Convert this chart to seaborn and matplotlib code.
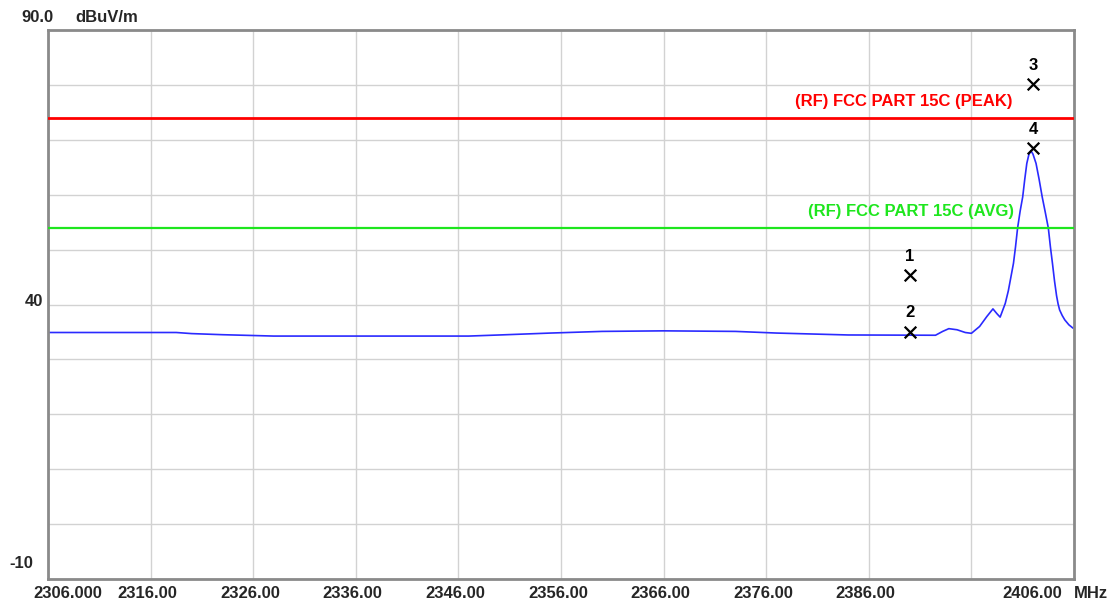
import matplotlib
matplotlib.use("Agg")
import matplotlib.pyplot as plt
import matplotlib.transforms as mtransforms
import pandas as pd
import seaborn as sns

# Messkurve (Frequenz in MHz, Pegel in dBuV/m)
freq_mhz = [2306.0, 2318.5, 2320.0, 2323.0, 2328.0, 2347.0, 2350.0, 2355.0,
            2360.0, 2366.0, 2373.0, 2377.0, 2384.0, 2392.5, 2393.2, 2393.8,
            2394.6, 2395.4, 2396.0, 2396.8, 2397.5, 2398.1, 2398.5, 2398.8,
            2399.3, 2399.6, 2399.8, 2400.1, 2400.3, 2400.5, 2400.75, 2401.0,
            2401.2, 2401.4, 2401.6, 2401.8, 2402.0, 2402.3, 2402.6, 2402.9,
            2403.2, 2403.5, 2403.7, 2403.9, 2404.1, 2404.3, 2404.45, 2404.6,
            2404.85, 2405.1, 2405.5, 2405.9]
level_dbuv = [34.9, 34.9, 34.7, 34.5, 34.25, 34.25, 34.45, 34.8,
              35.1, 35.2, 35.1, 34.8, 34.45, 34.4, 35.1, 35.6,
              35.4, 34.9, 34.75, 36.0, 37.8, 39.2, 38.3, 37.7,
              40.2, 42.5, 44.5, 47.5, 50.5, 53.9, 57.0, 59.6,
              62.8, 65.7, 67.3, 68.0, 67.4, 65.7, 62.8, 59.6,
              56.8, 53.9, 50.5, 47.5, 44.3, 41.6, 40.1, 39.0,
              38.0, 37.2, 36.3, 35.7]

# Marker
marker_ids = ["1", "2", "3", "4"]
marker_freq = [2390.0, 2390.0, 2402.0, 2402.0]
marker_level = [45.3, 35.0, 80.1, 68.5]

# Grenzwerte
limit_peak = 74.0
limit_avg = 54.0
limit_peak_label = "(RF) FCC PART 15C (PEAK)"
limit_avg_label = "(RF) FCC PART 15C (AVG)"

x_ticks = [2306, 2316, 2326, 2336, 2346, 2356, 2366, 2376, 2386, 2396, 2406]
x_tick_labels = ["2306.000", "2316.00", "2326.00", "2336.00", "2346.00", "2356.00",
                 "2366.00", "2376.00", "2386.00", "", "2406.00"]
y_ticks = [-10, 0, 10, 20, 30, 40, 50, 60, 70, 80, 90]

sns.set_style("white")
plt.rcParams["font.family"] = ["Liberation Sans", "DejaVu Sans"]

fig = plt.figure(figsize=(11.16, 6.05), dpi=100)
ax = fig.add_axes([48 / 1116, 26 / 605, 1026 / 1116, 549 / 605])

trace = pd.DataFrame({"freq": freq_mhz, "level": level_dbuv})
sns.lineplot(data=trace, x="freq", y="level", color="#2a2aff", linewidth=1.2,
             sort=False, estimator=None, ax=ax)

ax.axhline(limit_peak, color="#ff0000", linewidth=2.0, zorder=3)
ax.axhline(limit_avg, color="#1ee61e", linewidth=1.6, zorder=3)

fnt = dict(fontsize=12, fontweight="bold")

# Grenzwert-Beschriftungen
ax.text(2400.0, limit_peak, limit_peak_label, color="#ff0000", ha="right", va="bottom",
        transform=mtransforms.offset_copy(ax.transData, fig=fig, x=0, y=9, units="dots"), **fnt)
ax.text(2400.2, limit_avg, limit_avg_label, color="#1ee61e", ha="right", va="bottom",
        transform=mtransforms.offset_copy(ax.transData, fig=fig, x=0, y=9, units="dots"), **fnt)

# Marker
mk = pd.DataFrame({"freq": marker_freq, "level": marker_level, "id": marker_ids})
sns.scatterplot(data=mk, x="freq", y="level", marker="x", color="black", s=70,
                linewidth=1.6, ax=ax, zorder=5)
lbl_tr = mtransforms.offset_copy(ax.transData, fig=fig, x=0, y=19, units="dots")
for f, l, t in zip(marker_freq, marker_level, marker_ids):
    ax.text(f, l, t, ha="center", va="center", color="black", transform=lbl_tr, **fnt)

# Achsen
ax.set_xlim(2306, 2406)
ax.set_ylim(-10, 90)
ax.set_xticks(x_ticks)
ax.set_yticks(y_ticks)
ax.set_xticklabels([])
ax.set_yticklabels([])
ax.tick_params(length=0)
ax.set_xlabel("")
ax.set_ylabel("")
ax.grid(True, color="#d2d2d2", linewidth=1.0)
for s in ax.spines.values():
    s.set_color("#8a8a8a")
    s.set_linewidth(2.0)

# X-Beschriftung
xtr = ax.get_xaxis_transform()
for i, (xv, txt) in enumerate(zip(x_ticks, x_tick_labels)):
    if not txt:
        continue
    if i == 0:
        tr = mtransforms.offset_copy(xtr, fig=fig, x=-15, y=-14, units="dots")
        ha = "left"
    elif i == len(x_ticks) - 1:
        tr = mtransforms.offset_copy(xtr, fig=fig, x=-12, y=-14, units="dots")
        ha = "right"
    else:
        tr = mtransforms.offset_copy(xtr, fig=fig, x=-3, y=-14, units="dots")
        ha = "center"
    ax.text(xv, 0, txt, ha=ha, va="center", transform=tr, **fnt)
ax.text(1.0, 0, "MHz", ha="center", va="center",
        transform=mtransforms.offset_copy(ax.transAxes, fig=fig, x=17, y=-14, units="dots"), **fnt)

# Y-Beschriftung
ytr = ax.get_yaxis_transform()
ax.text(0, 90, "90.0", ha="right", va="center",
        transform=mtransforms.offset_copy(ytr, fig=fig, x=5, y=13, units="dots"), **fnt)
ax.text(0, 90, "dBuV/m", ha="left", va="center",
        transform=mtransforms.offset_copy(ytr, fig=fig, x=27, y=13, units="dots"), **fnt)
ax.text(0, 40, "40", ha="right", va="center",
        transform=mtransforms.offset_copy(ytr, fig=fig, x=-5, y=3, units="dots"), **fnt)
ax.text(0, -10, "-10", ha="right", va="center",
        transform=mtransforms.offset_copy(ytr, fig=fig, x=-15, y=15, units="dots"), **fnt)

fig.savefig("out.png", dpi=100)
plt.close(fig)
